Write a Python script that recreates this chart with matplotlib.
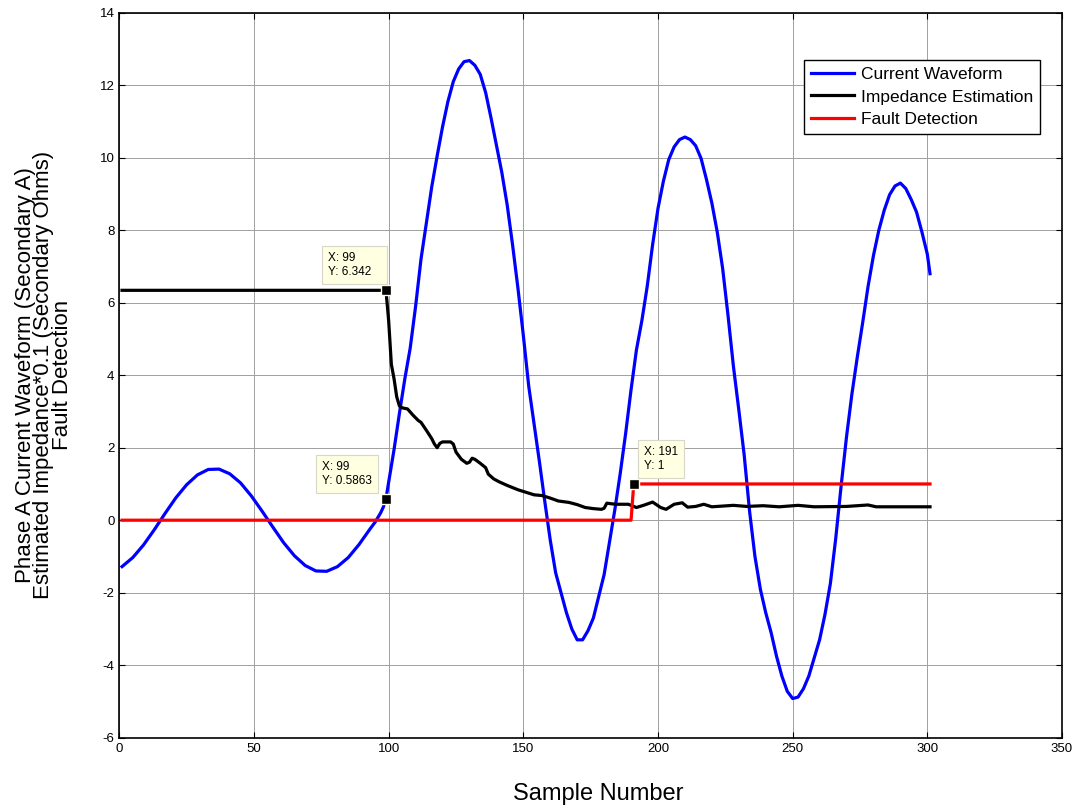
import matplotlib
matplotlib.use("Agg")
import matplotlib.pyplot as plt

plt.rcParams['font.family'] = ['Liberation Sans', 'DejaVu Sans']
plt.rcParams['axes.unicode_minus'] = False

# current waveform
cur_x = [1, 5, 9, 13, 17, 21, 25, 29, 33, 37, 41, 45, 49, 53, 57, 61, 65, 69, 73, 77,
         81, 85, 89, 93, 95, 97, 98, 99, 100, 102, 104, 106, 108, 110, 112, 114, 116, 118,
         120, 122, 124, 126, 128, 130, 132, 134, 136, 138, 140, 142, 144, 146, 148, 150,
         152, 154, 156, 158, 160, 162, 164, 166, 168, 170, 172, 174, 176, 178, 180, 182,
         184, 186, 188, 190, 192, 194, 196, 198, 200, 202, 204, 206, 208, 210, 212, 214,
         216, 218, 220, 222, 224, 226, 228, 230, 232, 234, 236, 238, 240, 242, 244, 246,
         248, 250, 252, 254, 256, 258, 260, 262, 264, 266, 268, 270, 272, 274, 276, 278,
         280, 282, 284, 286, 288, 290, 292, 294, 296, 298, 300, 301]
cur_y = [-1.28, -1.03, -0.68, -0.26, 0.19, 0.62, 0.98, 1.25, 1.40, 1.41, 1.28, 1.03, 0.67,
         0.25, -0.19, -0.62, -0.98, -1.25, -1.40, -1.41, -1.28, -1.03, -0.67, -0.25, -0.05,
         0.2, 0.36, 0.59, 1.05, 1.95, 2.95, 3.9, 4.75, 5.9, 7.2, 8.2, 9.2, 10.05, 10.85,
         11.55, 12.1, 12.45, 12.65, 12.68, 12.55, 12.3, 11.8, 11.1, 10.35, 9.6, 8.7, 7.6,
         6.4, 5.1, 3.7, 2.65, 1.6, 0.5, -0.55, -1.45, -2.0, -2.55, -3.0, -3.3, -3.3, -3.05,
         -2.7, -2.1, -1.5, -0.6, 0.3, 1.3, 2.4, 3.6, 4.7, 5.5, 6.45, 7.6, 8.6, 9.35, 9.95,
         10.3, 10.5, 10.57, 10.5, 10.33, 9.98, 9.4, 8.75, 7.95, 6.95, 5.65, 4.25, 3.05, 1.8,
         0.25, -1.0, -1.9, -2.55, -3.1, -3.75, -4.3, -4.72, -4.92, -4.88, -4.65, -4.3, -3.8,
         -3.3, -2.6, -1.75, -0.5, 0.95, 2.3, 3.48, 4.5, 5.45, 6.45, 7.3, 8.0, 8.55, 8.98,
         9.22, 9.3, 9.15, 8.85, 8.5, 7.95, 7.34, 6.8]

# impedance estimation * 0.1
imp_x = [1, 99, 100, 101, 102, 103, 104, 105, 107, 109, 111, 112, 114, 116, 117, 118, 119,
         120, 123, 124, 125, 127, 129, 130, 131, 132, 134, 136, 137, 139, 141, 144, 148,
         151, 154, 157, 160, 163, 167, 170, 173, 176, 179, 180, 181, 183, 185, 189, 192,
         195, 198, 199, 201, 203, 206, 209, 211, 214, 217, 220, 224, 228, 233, 239, 245,
         252, 258, 270, 278, 281, 301]
imp_y = [6.342, 6.342, 5.5, 4.3, 3.9, 3.4, 3.15, 3.1, 3.07, 2.9, 2.75, 2.7, 2.48, 2.25,
         2.1, 2.0, 2.12, 2.16, 2.16, 2.1, 1.88, 1.68, 1.57, 1.6, 1.71, 1.68, 1.57, 1.45,
         1.27, 1.14, 1.06, 0.96, 0.84, 0.77, 0.7, 0.68, 0.61, 0.53, 0.49, 0.43, 0.35, 0.32,
         0.3, 0.33, 0.47, 0.45, 0.44, 0.44, 0.35, 0.42, 0.5, 0.45, 0.35, 0.3, 0.44, 0.48,
         0.36, 0.38, 0.44, 0.37, 0.39, 0.41, 0.38, 0.4, 0.37, 0.41, 0.37, 0.38, 0.42, 0.37,
         0.37]

# fault detection flag
flt_x = [1, 190, 191, 301]
flt_y = [0, 0, 1, 1]

# data tips: x, y, text
tips = [(99, 6.342, "X: 99\nY: 6.342"),
        (99, 0.5863, "X: 99\nY: 0.5863"),
        (191, 1, "X: 191\nY: 1")]
tip_off = [(-58, 12), (-64, 12), (10, 12)]   # text offset from the point, pixels
tip_extra = [3, 0, 0]                         # extra blank room on the right

fig = plt.figure(figsize=(10.81, 8.05), dpi=100)
ax = fig.add_axes([0.1104, 0.0836, 0.8720, 0.9006])

ax.plot(cur_x, cur_y, color="#0000ff", lw=2.3, label="Current Waveform")
ax.plot(imp_x, imp_y, color="black", lw=2.3, label="Impedance Estimation")
ax.plot(flt_x, flt_y, color="#ff0000", lw=2.3, label="Fault Detection")

for (tx, ty, txt), off, extra in zip(tips, tip_off, tip_extra):
    ax.plot(tx, ty, marker="s", ms=7, mfc="black", mec="#ffffe1", mew=1, zorder=6)
    lines = [l + " " * extra for l in txt.split("\n")]
    ax.annotate("\n".join(lines), xy=(tx, ty), xytext=off, textcoords="offset pixels",
                ha="left", va="bottom", multialignment="left", fontsize=8.5,
                linespacing=1.25, zorder=7,
                bbox=dict(boxstyle="square,pad=0.5", fc="#ffffe1", ec="#d8d8c8", lw=0.8))

ax.set_xlim(0, 350)
ax.set_ylim(-6, 14)
ax.set_xticks(range(0, 351, 50))
ax.set_yticks(range(-6, 15, 2))
ax.grid(True, color="#a0a0a0", lw=0.7)
ax.tick_params(direction="in", length=4, labelsize=9.5, top=True, right=True)
for s in ax.spines.values():
    s.set_linewidth(1.2)

ax.set_xlabel("Sample Number", fontsize=17)
ax.xaxis.set_label_coords(0.508, -0.063)
ax.set_ylabel("Phase A Current Waveform (Secondary A)\n"
              "Estimated Impedance*0.1 (Secondary Ohms)\nFault Detection",
              fontsize=16, linespacing=0.86, labelpad=19)

leg = ax.legend(loc="upper right", bbox_to_anchor=(0.977, 0.935), fontsize=12.5,
                fancybox=False, edgecolor="black", framealpha=1, borderpad=0.4,
                borderaxespad=0, labelspacing=0.43, handlelength=2.5, handletextpad=0.4)
leg.get_frame().set_linewidth(1.0)

fig.savefig("out.png", dpi=100)
